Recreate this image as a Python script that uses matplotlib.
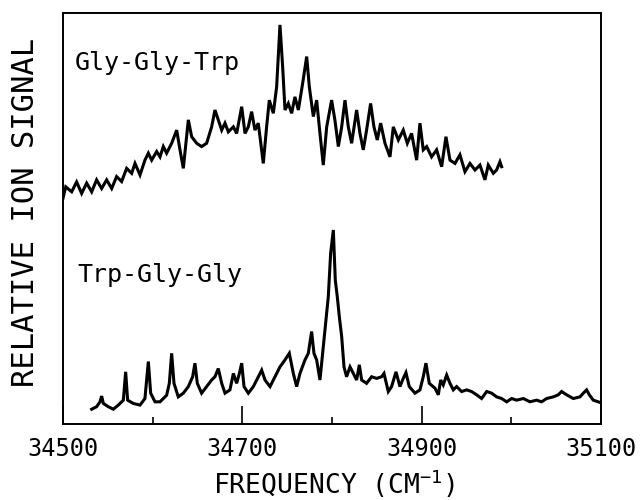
import matplotlib
matplotlib.use("Agg")
import matplotlib.pyplot as plt
import numpy as np

# Gly-Gly-Trp trace (upper), frequency in cm-1, signal in arbitrary units (0-100)
ggt_freq = [34500.0, 34503.1, 34509.7, 34515.2, 34520.8, 34526.4, 34532.0, 34537.5, 34543.1, 34548.7,
            34554.3, 34559.8, 34565.4, 34571.0, 34576.6, 34580.3, 34585.9, 34591.4, 34595.2, 34598.9,
            34604.5, 34608.2, 34611.9, 34615.6, 34621.2, 34626.8, 34630.5, 34634.2, 34639.8, 34643.5,
            34649.1, 34654.6, 34660.2, 34665.8, 34669.5, 34673.2, 34677.0, 34680.7, 34684.4, 34690.0,
            34693.7, 34699.3, 34703.0, 34706.7, 34710.4, 34714.1, 34717.8, 34723.4, 34727.1, 34730.1,
            34734.6, 34738.3, 34742.0, 34745.0, 34747.6, 34751.3, 34755.0, 34758.7, 34762.5, 34767.3,
            34771.8, 34774.7, 34779.2, 34782.9, 34786.6, 34790.3, 34794.1, 34799.6, 34803.3, 34807.1,
            34810.8, 34814.5, 34818.2, 34821.9, 34827.5, 34831.2, 34834.9, 34838.6, 34843.1, 34846.8,
            34850.5, 34854.3, 34859.1, 34864.7, 34868.4, 34874.0, 34879.5, 34884.0, 34888.8, 34894.4,
            34898.1, 34901.8, 34905.6, 34911.1, 34916.7, 34922.3, 34927.1, 34931.6, 34937.2, 34942.7,
            34948.3, 34953.9, 34959.5, 34965.0, 34970.6, 34974.3, 34979.9, 34983.6, 34987.3, 34989.2]
ggt_sig = [54.9, 57.7, 56.5, 58.9, 56.1, 58.6, 56.5, 59.4, 57.3, 59.4,
           57.3, 60.2, 59.0, 62.2, 61.0, 63.4, 60.6, 64.2, 65.9, 64.2,
           66.3, 65.0, 67.5, 65.9, 68.3, 71.5, 66.7, 62.2, 74.0, 69.9,
           68.3, 67.5, 68.3, 72.3, 76.4, 74.0, 71.5, 73.2, 71.1, 72.3,
           70.7, 77.2, 70.7, 72.3, 76.0, 71.5, 73.2, 63.4, 72.3, 78.8,
           75.6, 82.1, 97.1, 86.9, 76.4, 78.0, 75.6, 79.6, 76.4, 82.9,
           89.4, 82.1, 74.8, 78.8, 70.7, 63.0, 72.3, 78.8, 73.9, 67.5,
           72.3, 78.8, 72.3, 68.3, 76.4, 70.7, 66.7, 71.5, 78.0, 72.3,
           69.1, 73.2, 68.3, 65.0, 72.3, 69.1, 71.5, 68.3, 70.7, 64.2,
           73.2, 66.7, 67.5, 65.0, 66.7, 62.6, 69.9, 64.2, 63.4, 65.5,
           61.4, 63.4, 61.8, 63.0, 59.4, 63.0, 61.0, 61.8, 63.8, 62.6]

# Trp-Gly-Gly trace (lower)
tgg_freq = [34532.0, 34537.5, 34541.3, 34543.1, 34545.0, 34550.6, 34556.1, 34561.7, 34567.3, 34569.9,
            34572.1, 34578.4, 34585.9, 34591.4, 34595.2, 34597.8, 34602.6, 34608.2, 34615.6, 34618.6,
            34621.2, 34623.8, 34628.6, 34634.2, 34639.8, 34644.6, 34647.2, 34649.8, 34654.6, 34660.2,
            34665.8, 34669.5, 34673.2, 34677.0, 34680.7, 34686.2, 34690.0, 34693.7, 34696.7, 34699.3,
            34701.9, 34706.7, 34712.3, 34717.8, 34721.6, 34725.3, 34730.9, 34736.4, 34742.0, 34747.6,
            34752.4, 34756.9, 34760.6, 34764.3, 34769.9, 34773.6, 34777.3, 34779.9, 34782.9, 34786.6,
            34790.3, 34793.3, 34795.9, 34798.5, 34801.5, 34803.7, 34805.9, 34808.2, 34810.8, 34813.4,
            34816.3, 34820.1, 34823.8, 34827.5, 34830.5, 34833.1, 34838.6, 34844.2, 34849.8, 34855.4,
            34858.0, 34862.8, 34866.5, 34871.4, 34875.8, 34879.5, 34882.5, 34886.2, 34892.6, 34898.1,
            34901.8, 34904.8, 34908.5, 34914.9, 34918.6, 34921.2, 34924.1, 34927.9, 34931.6, 34935.3,
            34939.0, 34944.6, 34950.2, 34955.7, 34961.3, 34966.9, 34972.5, 34978.1, 34983.6, 34989.2,
            34994.8, 35000.4, 35005.9, 35013.4, 35020.8, 35028.2, 35033.8, 35039.4, 35046.8, 35052.4,
            35056.1, 35061.7, 35069.1, 35076.6, 35080.3, 35084.0, 35087.0, 35091.4, 35097.0, 35099.6]
tgg_sig = [3.6, 4.2, 5.4, 6.8, 5.0, 4.2, 3.6, 4.6, 5.8, 12.7,
           5.8, 5.0, 4.6, 6.2, 15.2, 7.5, 5.4, 5.4, 7.0, 9.9,
           17.2, 9.9, 6.6, 7.5, 9.1, 11.5, 14.8, 9.9, 7.5, 9.1,
           10.7, 11.5, 13.5, 9.9, 7.5, 8.3, 12.3, 9.9, 12.3, 14.8,
           9.1, 7.5, 9.1, 11.5, 13.1, 10.7, 9.1, 11.5, 13.9, 15.6,
           17.2, 12.3, 9.1, 12.3, 15.6, 17.2, 22.5, 17.2, 15.6, 10.7,
           18.8, 25.3, 31.0, 41.5, 47.2, 35.0, 31.0, 26.1, 21.3, 13.9,
           11.5, 13.9, 12.3, 10.7, 14.4, 10.7, 9.9, 11.5, 11.1, 11.5,
           12.3, 7.9, 9.1, 12.7, 9.1, 11.1, 12.5, 9.1, 7.5, 8.3,
           11.5, 14.8, 9.9, 8.7, 7.1, 10.7, 9.5, 11.9, 9.9, 8.3,
           9.1, 7.9, 8.3, 7.9, 7.1, 6.2, 7.9, 7.5, 6.6, 6.2,
           5.4, 6.2, 5.8, 6.2, 5.4, 5.8, 5.4, 6.2, 6.6, 7.1,
           7.9, 7.1, 6.2, 6.6, 7.5, 8.3, 7.1, 5.8, 5.4, 5.2]

major_ticks = [34500, 34700, 34900, 35100]
minor_ticks = [34600, 34800, 35000]

plt.rcParams['font.family'] = ['DejaVu Sans Mono', 'DejaVu Sans']
plt.rcParams['mathtext.default'] = 'regular'

fig = plt.figure(figsize=(6.42, 5.0), dpi=100)
ax = fig.add_axes([0.0981, 0.152, 0.838, 0.822])

ax.plot(ggt_freq, ggt_sig, color='black', linewidth=2.2, solid_joinstyle='miter')
ax.plot(tgg_freq, tgg_sig, color='black', linewidth=2.2, solid_joinstyle='miter')

ax.set_xlim(34500, 35100)
ax.set_ylim(0, 100)
ax.set_xticks(major_ticks)
ax.set_xticks(minor_ticks, minor=True)
ax.set_yticks([])
ax.tick_params(axis='x', which='major', direction='in', length=13, width=1.2,
               labelsize=17, pad=9)
ax.tick_params(axis='x', which='minor', direction='in', length=5, width=1.2)
for sp in ax.spines.values():
    sp.set_linewidth(1.4)

ax.text(0.022, 0.861, "Gly-Gly-Trp", transform=ax.transAxes, fontsize=18,
        va='baseline', ha='left')
ax.text(0.026, 0.345, "Trp-Gly-Gly", transform=ax.transAxes, fontsize=18,
        va='baseline', ha='left')

fig.text(0.039, 0.576, "RELATIVE ION SIGNAL", rotation=90, fontsize=22,
         ha='center', va='center')
fig.text(0.52, 0.032, "FREQUENCY (CM$^{-1}$)", fontsize=19, ha='center', va='center')

fig.savefig("out.png", dpi=100)
